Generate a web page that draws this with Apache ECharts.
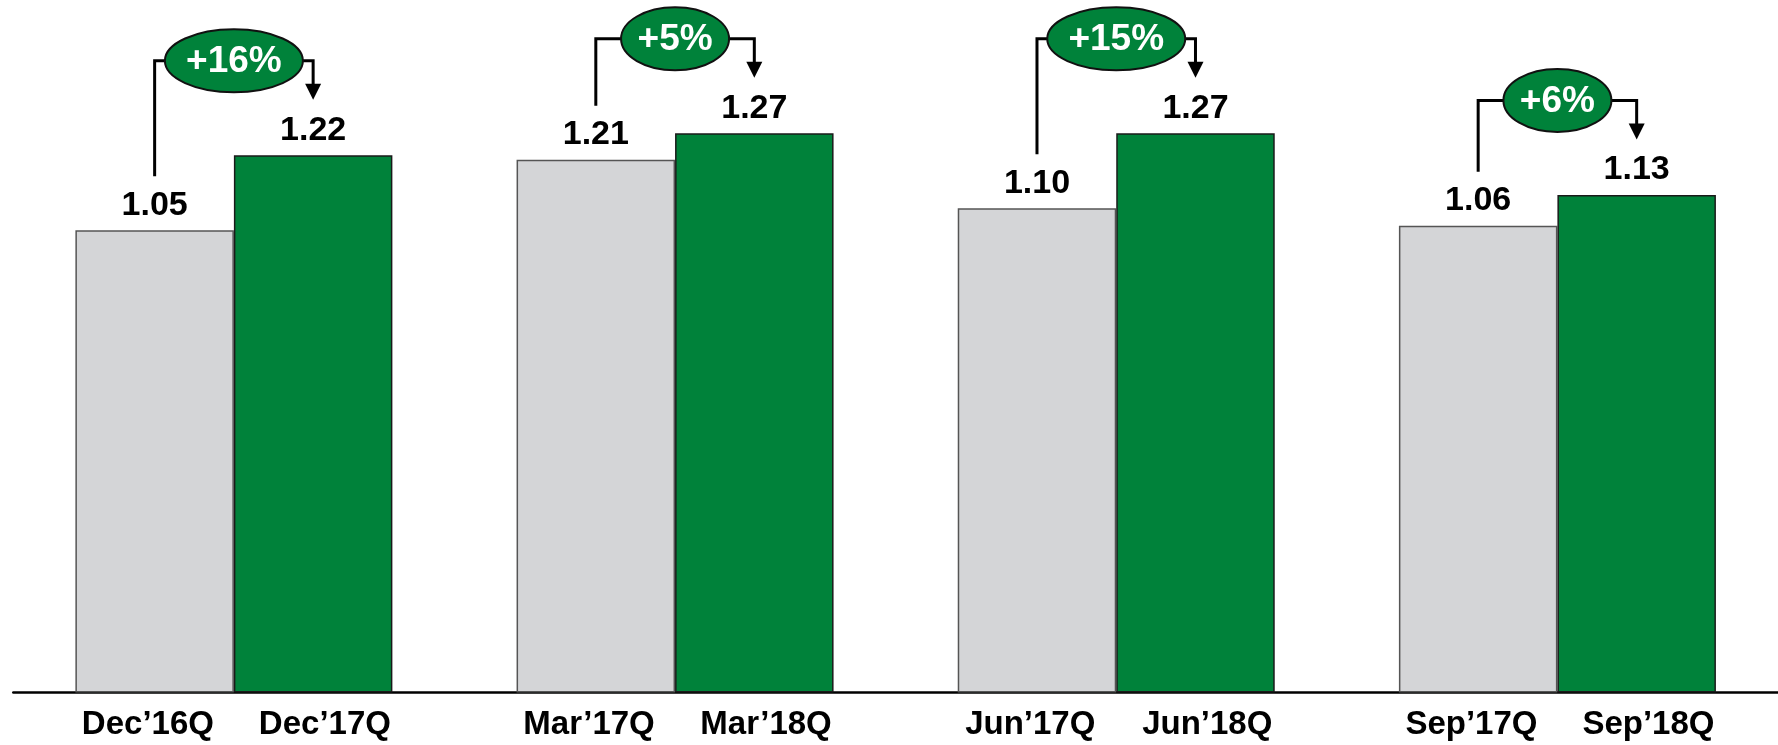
<!DOCTYPE html>
<html>
<head>
<meta charset="utf-8">
<script src="https://cdn.jsdelivr.net/npm/echarts@6/dist/echarts.min.js"></script>
<style>
html,body{margin:0;padding:0;background:#fff;}
#chart{width:1778px;height:745px;}
</style>
</head>
<body>
<div id="chart"></div>
<script>
// ---- data ----
var prevLabels = ["Dec\u201916Q", "Mar\u201917Q", "Jun\u201917Q", "Sep\u201917Q"];
var currLabels = ["Dec\u201917Q", "Mar\u201918Q", "Jun\u201918Q", "Sep\u201918Q"];
var prevValues = [1.05, 1.21, 1.10, 1.06];
var currValues = [1.22, 1.27, 1.27, 1.13];
var growthLabels = ["+16%", "+5%", "+15%", "+6%"];
var groupIndex = [0, 1, 2, 3];

var FONT = "'Liberation Sans', Arial, sans-serif";
var GREEN = '#00823a';
var GREY = '#d4d5d7';
var BW = 158.5;

var chart = echarts.init(document.getElementById('chart'), null, {renderer: 'canvas'});

var valueLabel = {
  show: true,
  position: 'top',
  distance: 8,
  color: '#000',
  fontFamily: FONT,
  fontWeight: 'bold',
  fontSize: 34,
  formatter: function (p) { return p.value.toFixed(2); }
};

chart.setOption({
  animation: false,
  backgroundColor: '#fff',
  grid: {left: 13.3, width: 1771.2, top: 32, bottom: 52.5, containLabel: false},
  xAxis: {
    type: 'category',
    data: groupIndex,
    boundaryGap: true,
    axisLine: {show: true, lineStyle: {color: '#000', width: 2.5}},
    axisTick: {show: false},
    splitLine: {show: false},
    axisLabel: {
      show: true,
      margin: 16,
      interval: 0,
      formatter: function (v, i) {
        return '{a|' + prevLabels[i] + '}{b|' + currLabels[i] + '}';
      },
      rich: {
        a: {width: 182, align: 'center', fontFamily: FONT, fontWeight: 'bold', fontSize: 33, color: '#000'},
        b: {width: 172, align: 'center', fontFamily: FONT, fontWeight: 'bold', fontSize: 33, color: '#000'}
      }
    }
  },
  yAxis: {
    type: 'value', min: 0, max: 1.5, show: false,
    splitLine: {show: false}
  },
  series: [
    {
      name: 'prev', type: 'bar', data: prevValues, barWidth: BW, barGap: '0%',
      itemStyle: {color: GREY, borderColor: '#555', borderWidth: 1.5},
      label: valueLabel
    },
    {
      name: 'curr', type: 'bar', data: currValues, barWidth: BW, barGap: '0%',
      itemStyle: {color: GREEN, borderColor: '#1a1a1a', borderWidth: 1.5},
      label: valueLabel
    }
  ]
});

// ---- growth annotations (positioned from the axes) ----
var elements = [];
groupIndex.forEach(function (i) {
  var cx = chart.convertToPixel({xAxisIndex: 0}, i);
  var xPrev = cx - BW / 2;
  var xCurr = cx + BW / 2;
  var yPrevTop = chart.convertToPixel({yAxisIndex: 0}, prevValues[i]);
  var yCurrTop = chart.convertToPixel({yAxisIndex: 0}, currValues[i]);
  var ey = yCurrTop - 94.5;
  var rx = growthLabels[i].length > 3 ? 69 : 54;
  var ry = 31.5;
  var lineStyle = {stroke: '#000', lineWidth: 3, fill: null};
  elements.push({
    type: 'polyline', z: 10,
    shape: {points: [[xPrev, yPrevTop - 54], [xPrev, ey], [cx - rx, ey]]},
    style: lineStyle
  });
  var tipY = yCurrTop - 55.5;
  elements.push({
    type: 'polyline', z: 10,
    shape: {points: [[cx + rx, ey], [xCurr, ey], [xCurr, tipY - 12]]},
    style: lineStyle
  });
  elements.push({
    type: 'polygon', z: 10,
    shape: {points: [[xCurr - 8, tipY - 16], [xCurr + 8, tipY - 16], [xCurr, tipY]]},
    style: {fill: '#000'}
  });
  elements.push({
    type: 'ellipse', z: 11,
    shape: {cx: cx, cy: ey, rx: rx, ry: ry},
    style: {fill: GREEN, stroke: '#111', lineWidth: 2}
  });
  elements.push({
    type: 'text', z: 12,
    x: cx, y: ey + 1,
    style: {
      text: growthLabels[i], fill: '#fff',
      font: 'bold 37px ' + FONT,
      align: 'center', verticalAlign: 'middle'
    }
  });
});
chart.setOption({graphic: elements});
</script>
</body>
</html>
